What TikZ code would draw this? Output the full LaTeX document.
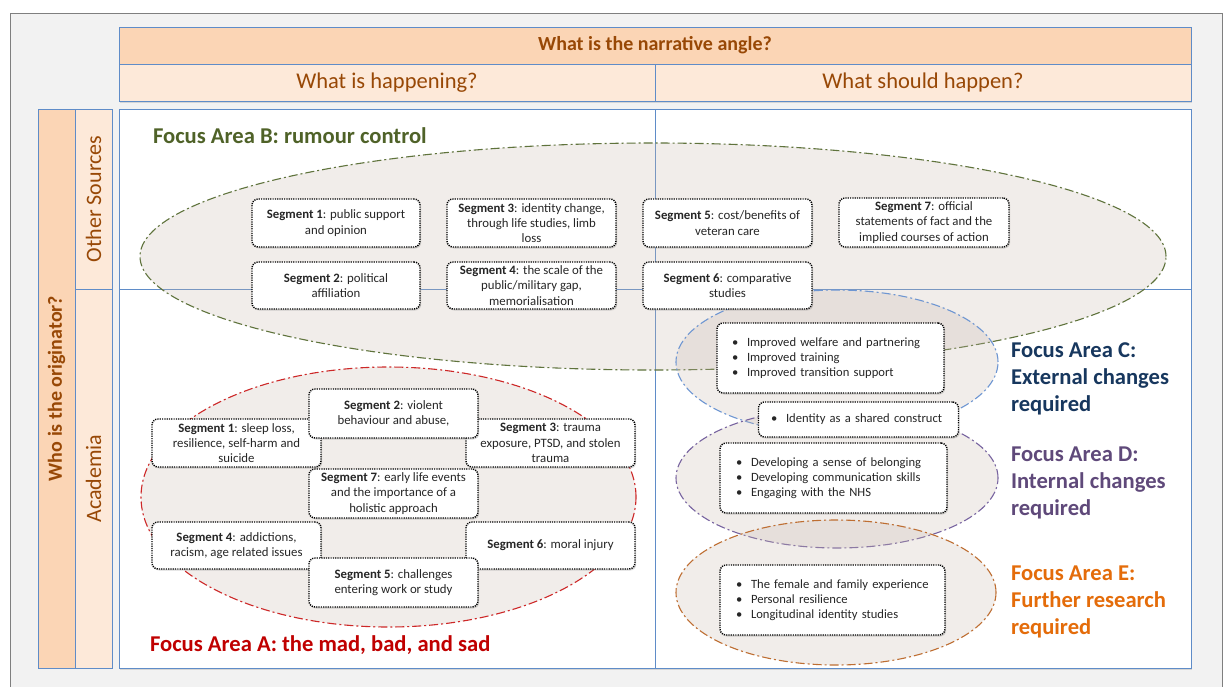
\documentclass[tikz,border=0pt]{standalone}
\usepackage{fontspec}
\setmainfont{Carlito}
\usetikzlibrary{shapes.geometric,shadows}

\definecolor{peach}{RGB}{251,213,181}
\definecolor{peachlt}{RGB}{253,233,217}
\definecolor{hdrtext}{RGB}{152,72,6}
\definecolor{bdr}{RGB}{95,140,200}
\definecolor{framegray}{RGB}{127,127,127}
\definecolor{panel}{RGB}{242,242,242}
\definecolor{areafill}{RGB}{200,185,175}
\definecolor{colA}{RGB}{192,0,0}
\definecolor{lineA}{RGB}{205,40,40}
\definecolor{colB}{RGB}{79,98,40}
\definecolor{lineB}{RGB}{95,115,60}
\definecolor{colC}{RGB}{23,55,94}
\definecolor{lineC}{RGB}{110,150,210}
\definecolor{colD}{RGB}{95,73,122}
\definecolor{lineD}{RGB}{120,100,160}
\definecolor{colE}{RGB}{228,108,10}
\definecolor{lineE}{RGB}{190,110,50}

\newcommand\bpt{\makebox[15pt][l]{\textbullet}}

\tikzset{
  cell/.style={draw=bdr, line width=0.8pt, inner sep=0pt, outer sep=0pt, text=hdrtext,
    drop shadow={shadow xshift=1.2pt, shadow yshift=-1.8pt, opacity=0.25}},
  sidecell/.style={draw=bdr, line width=0.8pt, inner sep=0pt, outer sep=0pt, text=hdrtext, rotate=90},
  area/.style={ellipse, inner sep=0pt, outer sep=0pt, line width=1.1pt,
    fill=areafill, fill opacity=0.25, dash pattern=on 9pt off 3pt on 2pt off 3pt},
  segbox/.style={draw=black, fill=white, rounded corners=6pt, line width=1.4pt,
    dash pattern=on 1.2pt off 1.1pt, inner sep=0pt, outer sep=0pt, align=center,
    font=\fontsize{12.8}{15.3}\selectfont, text=black!85,
    drop shadow={shadow xshift=1.2pt, shadow yshift=-1.5pt, opacity=0.3}},
  listbox/.style={segbox, align=left, font=\fontsize{12.6}{15}\selectfont},
  focus/.style={inner sep=0pt, outer sep=0pt, font=\fontsize{22.6}{27}\selectfont\bfseries,
    align=left, anchor=west},
  bighead/.style={font=\fontsize{22.5}{26}\selectfont},
}

\begin{document}
\begin{tikzpicture}[x=1pt,y=-1pt]
\useasboundingbox (0,0) rectangle (1226,686);
\clip (0,0) rectangle (1226,686);

% outer panel
\node[draw=framegray, fill=panel, line width=1.2pt, minimum width=1212pt, minimum height=700pt,
      anchor=north west, inner sep=0pt] (panel) at (10,13) {};

% column headers
\node[cell, fill=peach, anchor=north west, minimum width=1072pt, minimum height=37pt,
      font=\fontsize{20}{24}\selectfont\bfseries] (angle) at (119,27) {What is the narrative angle?};
\node[cell, fill=peachlt, anchor=north west, minimum width=536pt, minimum height=37pt,
      bighead] (happening) at (119,64) {What is happening?};
\node[cell, fill=peachlt, anchor=north west, minimum width=536pt, minimum height=37pt,
      bighead] (should) at (655,64) {What should happen?};

% row headers
\node[sidecell, fill=peach, minimum width=559pt, minimum height=37pt,
      font=\fontsize{20}{24}\selectfont\bfseries] (originator) at (56.5,388.5) {Who is the originator?};
\node[sidecell, fill=peachlt, minimum width=180pt, minimum height=37pt,
      font=\fontsize{22}{26}\selectfont] (other) at (93.5,199) {Other Sources};
\node[sidecell, fill=peachlt, minimum width=379pt, minimum height=37pt,
      font=\fontsize{22}{26}\selectfont] (academia) at (93.5,478.5) {Academia};

% main grid
\node[cell, fill=white, anchor=north west, minimum width=1072pt, minimum height=559pt] (grid) at (119,109) {};
\coordinate (hl) at (119,289);
\coordinate (hr) at (1191,289);
\draw[bdr, line width=0.8pt] (hl) -- (hr);
\draw[bdr, line width=0.8pt] (grid.north) -- (grid.south);

% focus areas
\node[area, draw=lineB, minimum width=1026pt, minimum height=227pt] (areaB) at (653,256.5) {};
\node[area, draw=lineA, minimum width=495pt, minimum height=260pt] (areaA) at (388.5,497) {};
\node[area, draw=lineC, minimum width=322pt, minimum height=144pt] (areaC) at (837,362) {};
\node[area, draw=lineD, minimum width=322pt, minimum height=140pt] (areaD) at (837,478) {};
\node[area, draw=lineE, minimum width=320pt, minimum height=145pt] (areaE) at (836,592.5) {};

% focus area B segments
\node[segbox, minimum width=168pt, minimum height=48pt] (b1) at (336,223) {\textbf{Segment 1}: public support\\and opinion};
\node[segbox, minimum width=168pt, minimum height=47pt] (b2) at (336,285.5) {\textbf{Segment 2}: political\\affiliation};
\node[segbox, minimum width=169pt, minimum height=48pt] (b3) at (531.5,223) {\textbf{Segment 3}: identity change,\\through life studies, limb\\loss};
\node[segbox, minimum width=169pt, minimum height=47pt] (b4) at (531.5,285.5) {\textbf{Segment 4}: the scale of the\\public/military gap,\\memorialisation};
\node[segbox, minimum width=169pt, minimum height=48pt] (b5) at (727.5,223) {\textbf{Segment 5}: cost/benefits of\\veteran care};
\node[segbox, minimum width=169pt, minimum height=47pt] (b6) at (727.5,285.5) {\textbf{Segment 6}: comparative\\studies};
\node[segbox, minimum width=170pt, minimum height=49pt] (b7) at (924,222.5) {\textbf{Segment 7}: official\\statements of fact and the\\implied courses of action};

% focus area A segments
\node[segbox, minimum width=169pt, minimum height=48pt] (a1) at (236.5,443) {\textbf{Segment 1}: sleep loss,\\resilience, self-harm and\\suicide};
\node[segbox, minimum width=169pt, minimum height=48pt] (a3) at (550.5,443) {\textbf{Segment 3}: trauma\\exposure, PTSD, and stolen\\trauma};
\node[segbox, minimum width=169pt, minimum height=47pt] (a4) at (236.5,545.5) {\textbf{Segment 4}: addictions,\\racism, age related issues};
\node[segbox, minimum width=169pt, minimum height=47pt] (a6) at (550.5,545.5) {\textbf{Segment 6}: moral injury};
\node[segbox, minimum width=169pt, minimum height=49pt] (a2) at (393.5,413.5) {\textbf{Segment 2}: violent\\behaviour and abuse,};
\node[segbox, minimum width=169pt, minimum height=49pt] (a7) at (393.5,493.5) {\textbf{Segment 7}: early life events\\and the importance of a\\holistic approach};
\node[segbox, minimum width=169pt, minimum height=49pt] (a5) at (393.5,582.5) {\textbf{Segment 5}: challenges\\entering work or study};

% focus areas C, D, E contents
\node[listbox, text width=197pt, minimum width=227pt, minimum height=70pt] (listC) at (830.5,358)
  {\bpt Improved welfare and partnering\\ \bpt Improved training\\ \bpt Improved transition support};
\node[listbox, text width=175pt, minimum width=200pt, minimum height=35pt] (shared) at (858.5,419.5)
  {\bpt Identity as a shared construct};
\node[listbox, text width=195pt, minimum width=227pt, minimum height=70pt] (listD) at (833.5,478)
  {\bpt Developing a sense of belonging\\ \bpt Developing communication skills\\ \bpt Engaging with the NHS};
\node[listbox, text width=193pt, minimum width=225pt, minimum height=70pt] (listE) at (832.5,600)
  {\bpt The female and family experience\\ \bpt Personal resilience\\ \bpt Longitudinal identity studies};

% focus area titles
\node[focus, text=colB] (labB) at (153,136) {Focus Area B: rumour control};
\node[focus, text=colA] (labA) at (150,645) {Focus Area A: the mad, bad, and sad};
\node[focus, text=colC] (labC) at (1011,378.5) {Focus Area C:\\External changes\\required};
\node[focus, text=colD] (labD) at (1011,483) {Focus Area D:\\Internal changes\\required};
\node[focus, text=colE] (labE) at (1011,601.5) {Focus Area E:\\Further research\\required};
\end{tikzpicture}
\end{document}
